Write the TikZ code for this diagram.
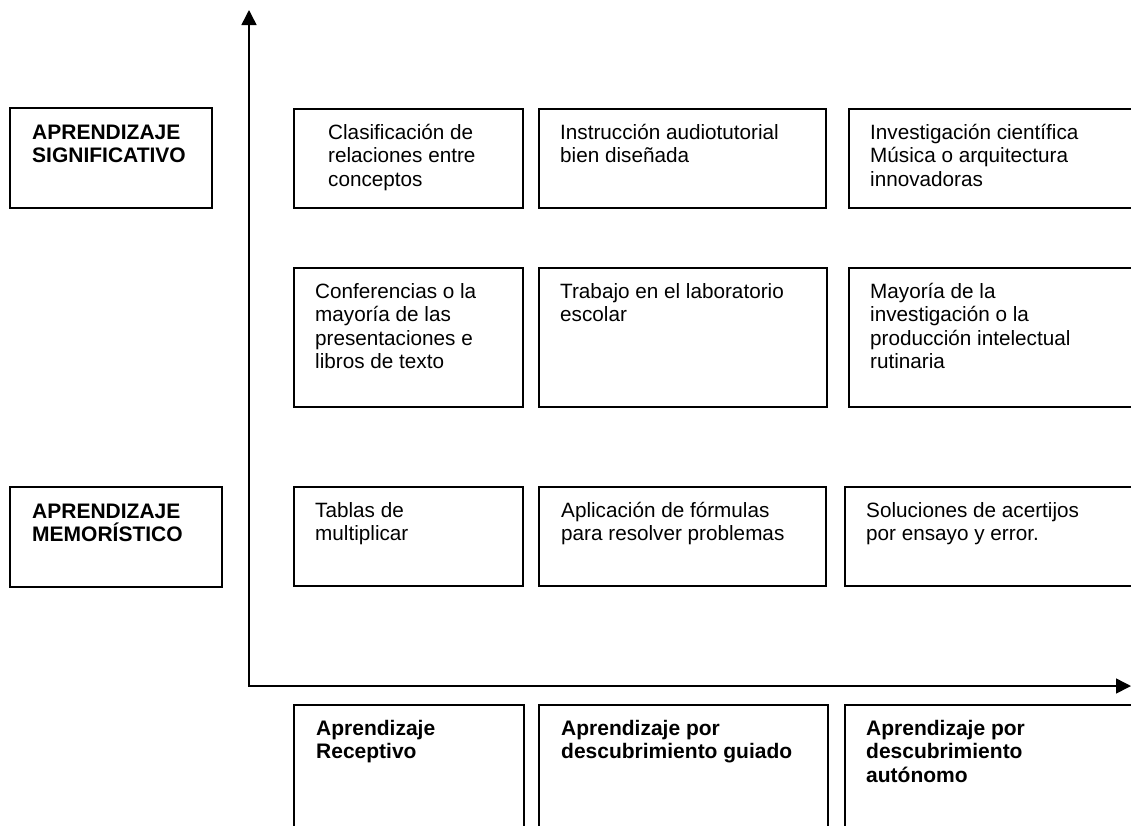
\documentclass[tikz,border=0pt]{standalone}
\usepackage{fontspec}
\setmainfont{Liberation Sans}
\usetikzlibrary{arrows.meta}
\newcommand\ctxt[1]{\parbox[t]{300pt}{\raggedright #1}}
\begin{document}
\begin{tikzpicture}[x=1pt,y=-1pt,
 box/.style={draw, line width=1.5pt, inner sep=0pt, outer sep=0pt, anchor=north west},
 txt/.style={anchor=base west, inner sep=0pt, font=\fontsize{20.7}{23.5}\selectfont},
 btxt/.style={anchor=base west, inner sep=0pt, font=\fontsize{21}{23.5}\selectfont\bfseries},
 axisline/.style={line width=1.5pt, {Triangle[length=15pt,width=15pt]}-{Triangle[length=15pt,width=15pt]}}]
\clip (0,0) rectangle (1131,825);
% left boxes
\node[box, minimum width=202pt, minimum height=100pt] (L1) at (10,108) {};
\node[box, minimum width=212pt, minimum height=100pt] (L2) at (10,487) {};
% row 1
\node[box, minimum width=229pt, minimum height=99pt] (r1c1) at (294,109) {};
\node[box, minimum width=287pt, minimum height=99pt] (r1c2) at (539,109) {};
\node[box, minimum width=300pt, minimum height=99pt] (r1c3) at (849,109) {};
% row 2
\node[box, minimum width=229pt, minimum height=139pt] (r2c1) at (294,268) {};
\node[box, minimum width=288pt, minimum height=139pt] (r2c2) at (539,268) {};
\node[box, minimum width=300pt, minimum height=139pt] (r2c3) at (849,268) {};
% row 3
\node[box, minimum width=229pt, minimum height=99pt] (r3c1) at (294,487) {};
\node[box, minimum width=287pt, minimum height=99pt] (r3c2) at (539,487) {};
\node[box, minimum width=300pt, minimum height=99pt] (r3c3) at (845,487) {};
% bottom row
\node[box, minimum width=230pt, minimum height=140pt] (b1) at (294,705) {};
\node[box, minimum width=289pt, minimum height=140pt] (b2) at (539,705) {};
\node[box, minimum width=300pt, minimum height=140pt] (b3) at (845,705) {};
% texts
\node[btxt] (tL1) at (32,139) {\ctxt{APRENDIZAJE\\SIGNIFICATIVO}};
\node[btxt] (tL2) at (32,518) {\ctxt{APRENDIZAJE\\MEMORÍSTICO}};
\node[txt] (t11) at (328,139) {\ctxt{Clasificación de\\relaciones entre\\conceptos}};
\node[txt] (t12) at (560,139) {\ctxt{Instrucción audiotutorial\\bien diseñada}};
\node[txt] (t13) at (870,139) {\ctxt{Investigación científica\\Música o arquitectura\\innovadoras}};
\node[txt] (t21) at (315,298) {\ctxt{Conferencias o la\\mayoría de las\\presentaciones e\\libros de texto}};
\node[txt] (t22) at (560,298) {\ctxt{Trabajo en el laboratorio\\escolar}};
\node[txt] (t23) at (870,298) {\ctxt{Mayoría de la\\investigación o la\\producción intelectual\\rutinaria}};
\node[txt] (t31) at (315,517) {\ctxt{Tablas de\\multiplicar}};
\node[txt] (t32) at (561,517) {\ctxt{Aplicación de fórmulas\\para resolver problemas}};
\node[txt] (t33) at (866,517) {\ctxt{Soluciones de acertijos\\por ensayo y error.}};
\node[btxt] (tb1) at (316,735) {\ctxt{Aprendizaje\\Receptivo}};
\node[btxt] (tb2) at (561,735) {\ctxt{Aprendizaje por\\descubrimiento guiado}};
\node[btxt] (tb3) at (866,735) {\ctxt{Aprendizaje por\\descubrimiento\\autónomo}};
% axes
\coordinate (Ytop) at (249,10);
\coordinate (Xend) at (1131,686);
\draw[axisline] (Ytop) |- (Xend);
\end{tikzpicture}
\end{document}
